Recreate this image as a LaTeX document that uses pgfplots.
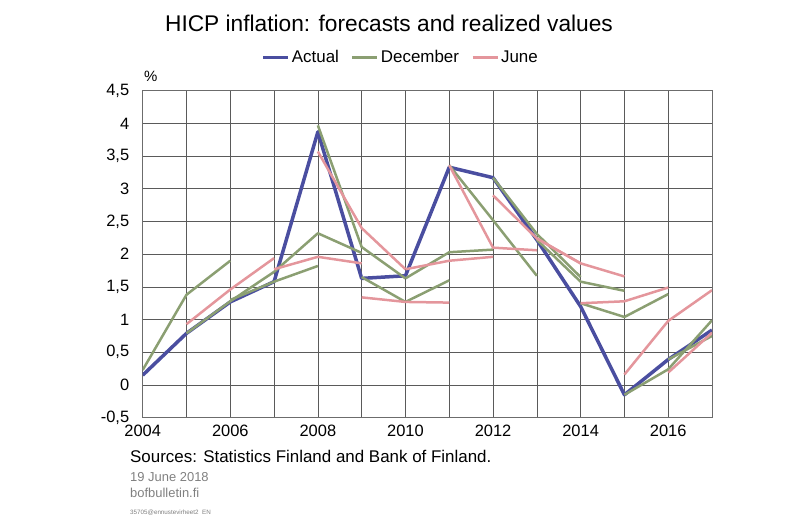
\documentclass[border=0pt]{standalone}
\usepackage{fontspec}
\setmainfont{Liberation Sans}
\usepackage{pgfplots}
\pgfplotsset{compat=1.18}
\definecolor{actual}{RGB}{74,78,160}
\definecolor{dec}{RGB}{139,159,114}
\definecolor{jun}{RGB}{228,150,156}
\definecolor{foot}{RGB}{128,128,128}
\definecolor{gridc}{RGB}{90,90,90}

\begin{document}
\begin{tikzpicture}
\path[use as bounding box] (0,0) rectangle (800bp,523bp);
\begin{axis}[
  at={(142.7bp,105.3bp)}, anchor=south west,
  scale only axis, width=569.3bp, height=327bp,
  xmin=2004, xmax=2017, ymin=-0.5, ymax=4.5,
  xtick={2004,2006,2008,2010,2012,2014,2016},
  minor xtick={2005,2007,2009,2011,2013,2015,2017},
  ytick={-0.5,0,0.5,1,1.5,2,2.5,3,3.5,4,4.5},
  grid=both,
  major grid style={draw=gridc, line width=0.6bp},
  minor grid style={draw=gridc, line width=0.6bp},
  axis line style={draw=gray!85!black, line width=0.8bp},
  major tick length=0pt, minor tick length=0pt,
  tick label style={font=\fontsize{16.5}{19}\selectfont},
  /pgf/number format/assume math mode=true,
  xticklabel style={/pgf/number format/1000 sep={}, yshift=-3.5bp},
  yticklabel style={/pgf/number format/use comma, /pgf/number format/fixed,
    /pgf/number format/precision=1, xshift=-10bp},
  no markers,
  every axis plot/.append style={line join=round},
  legend style={draw=none, fill=none, at={(0.4534,1.103)}, anchor=center,
    font=\fontsize{17}{20}\selectfont, legend columns=-1,
    /tikz/every even column/.append style={column sep=10bp}},
  legend image code/.code={\draw[#1, line width=3bp] (0bp,0bp) -- (25bp,0bp);},
]
% realized values
\addplot[actual, line width=3.5bp] coordinates {
  (2004,0.15) (2005,0.79) (2006,1.27) (2007,1.58) (2008,3.87) (2009,1.63)
  (2010,1.67) (2011,3.33) (2012,3.17) (2013,2.22) (2014,1.2) (2015,-0.15)
  (2016,0.39) (2017,0.84)};
\addlegendentry{Actual}

% December forecasts
\addplot[dec, line width=2.5bp] coordinates {(2004,0.23) (2005,1.38) (2006,1.9)};
\addlegendentry{December}
\addplot[dec, line width=2.5bp, forget plot] coordinates {(2005,0.79) (2006,1.28) (2007,1.73)};
\addplot[dec, line width=2.5bp, forget plot] coordinates {(2006,1.3) (2007,1.58) (2008,1.82)};
\addplot[dec, line width=2.5bp, forget plot] coordinates {(2007,1.73) (2008,2.32) (2009,2.02)};
\addplot[dec, line width=2.5bp, forget plot] coordinates {(2008,3.97) (2009,2.11) (2010,1.63)};
\addplot[dec, line width=2.5bp, forget plot] coordinates {(2009,1.65) (2010,1.27) (2011,1.6)};
\addplot[dec, line width=2.5bp, forget plot] coordinates {(2010,1.63) (2011,2.03) (2012,2.07)};
\addplot[dec, line width=2.5bp, forget plot] coordinates {(2011,3.36) (2012,2.52) (2013,1.67)};
\addplot[dec, line width=2.5bp, forget plot] coordinates {(2012,3.17) (2013,2.31) (2014,1.65)};
\addplot[dec, line width=2.5bp, forget plot] coordinates {(2013,2.22) (2014,1.58) (2015,1.44)};
\addplot[dec, line width=2.5bp, forget plot] coordinates {(2014,1.25) (2015,1.04) (2016,1.39)};
\addplot[dec, line width=2.5bp, forget plot] coordinates {(2015,-0.15) (2016,0.24) (2017,0.99)};
\addplot[dec, line width=2.5bp, forget plot] coordinates {(2016,0.39) (2017,0.75)};

% June forecasts
\addplot[jun, line width=2.5bp] coordinates {(2005,0.93) (2006,1.46) (2007,1.94)};
\addlegendentry{June}
\addplot[jun, line width=2.5bp, forget plot] coordinates {(2007,1.77) (2008,1.96) (2009,1.86)};
\addplot[jun, line width=2.5bp, forget plot] coordinates {(2008,3.57) (2009,2.4) (2010,1.77)};
\addplot[jun, line width=2.5bp, forget plot] coordinates {(2009,1.34) (2010,1.27) (2011,1.26)};
\addplot[jun, line width=2.5bp, forget plot] coordinates {(2010,1.77) (2011,1.9) (2012,1.96)};
\addplot[jun, line width=2.5bp, forget plot] coordinates {(2011,3.36) (2012,2.1) (2013,2.06)};
\addplot[jun, line width=2.5bp, forget plot] coordinates {(2012,2.9) (2013,2.24) (2014,1.86)};
\addplot[jun, line width=2.5bp, forget plot] coordinates {(2013,2.24) (2014,1.86) (2015,1.66)};
\addplot[jun, line width=2.5bp, forget plot] coordinates {(2014,1.25) (2015,1.28) (2016,1.49)};
\addplot[jun, line width=2.5bp, forget plot] coordinates {(2015,0.16) (2016,0.98) (2017,1.45)};
\addplot[jun, line width=2.5bp, forget plot] coordinates {(2016,0.19) (2017,0.8)};
\end{axis}

\node[anchor=base, inner sep=0, font=\fontsize{22.8}{27}\selectfont] at (389bp,491.3bp)
  {HICP inflation: forecasts and realized values};
\node[anchor=base west, inner sep=0, font=\fontsize{15}{18}\selectfont] at (144bp,441.3bp) {\%};
\node[anchor=base west, inner sep=0, font=\fontsize{17}{20}\selectfont] at (130bp,60bp)
  {Sources: Statistics Finland and Bank of Finland.};
\node[anchor=base west, inner sep=0, text=foot, font=\fontsize{13}{15}\selectfont] at (130bp,41.3bp)
  {19 June 2018};
\node[anchor=base west, inner sep=0, text=foot, font=\fontsize{13}{15}\selectfont] at (130bp,25.7bp)
  {bofbulletin.fi};
\node[anchor=base west, inner sep=0, text=foot, font=\fontsize{6.3}{7}\selectfont] at (130bp,9bp)
  {35705@ennustevirheet2\ \ EN};
\end{tikzpicture}
\end{document}
